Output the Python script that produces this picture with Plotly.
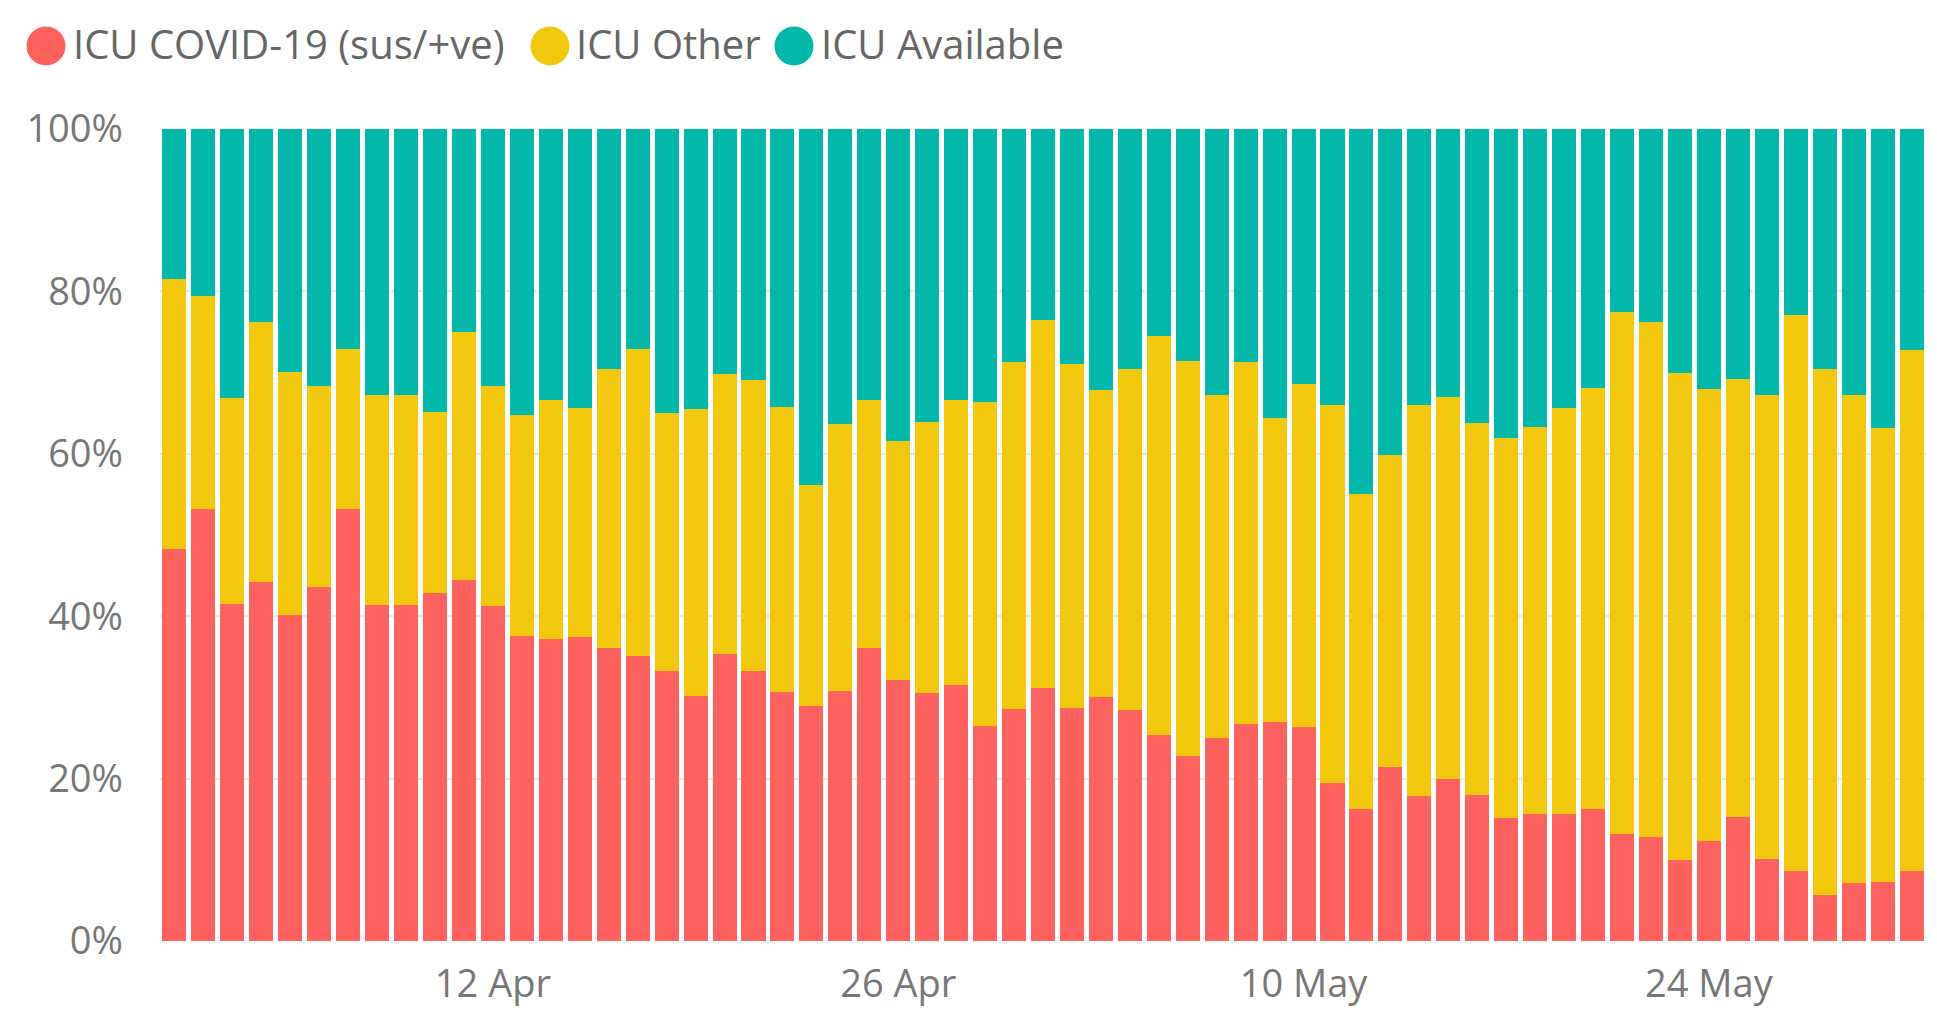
import pandas as pd
import plotly.graph_objects as go

# Dates (1 Apr 2020 .. 31 May 2020)
dates = pd.date_range("2020-04-01", "2020-05-31", freq="D")

# Share of ICU beds (%)
icu_covid = [48.3, 53.2, 41.5, 44.2, 40.2, 43.6, 53.2, 41.4, 41.4, 42.9,
             44.4, 41.2, 37.6, 37.2, 37.5, 36.1, 35.1, 33.3, 30.2, 35.4,
             33.3, 30.7, 28.9, 30.8, 36.1, 32.1, 30.5, 31.5, 26.5, 28.6,
             31.2, 28.7, 30.1, 28.4, 25.4, 22.8, 25.0, 26.7, 27.0, 26.4,
             19.5, 16.3, 21.4, 17.9, 19.9, 18.0, 15.2, 15.6, 15.7, 16.3,
             13.2, 12.8, 10.0, 12.3, 15.3, 10.1, 8.6, 5.7, 7.1, 7.3, 8.6]
icu_other = [33.2, 26.2, 25.4, 32.0, 29.9, 24.7, 19.7, 25.8, 25.8, 22.2,
             30.6, 27.1, 27.2, 29.4, 28.1, 34.3, 37.8, 31.7, 35.3, 34.4,
             35.8, 35.1, 27.3, 32.9, 30.5, 29.5, 33.4, 35.1, 39.9, 42.7,
             45.3, 42.4, 37.7, 42.1, 49.1, 48.6, 42.2, 44.6, 37.4, 42.2,
             46.5, 38.8, 38.4, 48.1, 47.1, 45.8, 46.7, 47.7, 49.9, 51.8,
             64.3, 63.4, 60.0, 55.7, 53.9, 57.2, 68.5, 64.8, 60.2, 55.9, 64.2]
icu_available = [18.5, 20.6, 33.1, 23.8, 29.9, 31.7, 27.1, 32.8, 32.8, 34.9,
                 25.0, 31.7, 35.2, 33.4, 34.4, 29.6, 27.1, 35.0, 34.5, 30.2,
                 30.9, 34.2, 43.8, 36.3, 33.4, 38.4, 36.1, 33.4, 33.6, 28.7,
                 23.5, 28.9, 32.2, 29.5, 25.5, 28.6, 32.8, 28.7, 35.6, 31.4,
                 34.0, 44.9, 40.2, 34.0, 33.0, 36.2, 38.1, 36.7, 34.4, 31.9,
                 22.5, 23.8, 30.0, 32.0, 30.8, 32.7, 22.9, 29.5, 32.7, 36.8, 27.2]

series_names = ["ICU COVID-19 (sus/+ve)", "ICU Other", "ICU Available"]
series_values = [icu_covid, icu_other, icu_available]
colors = ["#FD625E", "#F2C80F", "#01B8AA"]

y_tick_values = [0, 20, 40, 60, 80, 100]
y_tick_labels = ["0%", "20%", "40%", "60%", "80%", "100%"]

FONT = "Segoe UI, Open Sans, sans-serif"

# figure geometry (pixels)
W, H = 1937, 1024
L, R, T, B = 160, 11, 129, 83
PW, PH = W - L - R, H - T - B


def px_x(px):
    return (px - L) / PW


def px_y(py):
    return (H - B - py) / PH


fig = go.Figure()
for name, vals, col in zip(series_names, series_values, colors):
    fig.add_trace(go.Bar(x=dates, y=vals, name=name, marker_color=col,
                         marker_line_width=0))

# custom legend: large round markers + text
legend_marker_cx = [46, 550, 794]
legend_text_x = [72, 575, 820]
legend_marker_cy = 46
legend_text_cy = 43.5
rad = 19.5
shapes = []
annotations = []
for name, col, cx, tx in zip(series_names, colors, legend_marker_cx, legend_text_x):
    shapes.append(dict(type="circle", xref="paper", yref="paper",
                       x0=px_x(cx - rad), x1=px_x(cx + rad),
                       y0=px_y(legend_marker_cy + rad), y1=px_y(legend_marker_cy - rad),
                       fillcolor=col, line=dict(width=0)))
    annotations.append(dict(text=name, xref="paper", yref="paper",
                            x=px_x(tx), y=px_y(legend_text_cy), xanchor="left", yanchor="middle",
                            showarrow=False, borderpad=0,
                            font=dict(family=FONT, size=40, color="#666666")))

fig.update_layout(
    width=W, height=H,
    barmode="stack", bargap=0.17,
    showlegend=False,
    plot_bgcolor="white", paper_bgcolor="white",
    margin=dict(l=L, r=R, t=T, b=B),
    font=dict(family=FONT, size=38, color="#777777"),
    shapes=shapes, annotations=annotations,
    xaxis=dict(range=[pd.Timestamp("2020-03-31 12:00"), pd.Timestamp("2020-05-31 12:00")],
               tickmode="linear", tick0="2020-04-12", dtick=14 * 86400000,
               tickformat="%-d %b", showgrid=False, zeroline=False, showline=False,
               ticks="", ticklabelstandoff=17,
               tickfont=dict(family=FONT, size=38, color="#777777")),
    yaxis=dict(range=[0, 100], tickmode="array", tickvals=y_tick_values, ticktext=y_tick_labels,
               showgrid=True, gridcolor="#EAEAEA", gridwidth=2, zeroline=False,
               showline=False, ticks="", ticklabelstandoff=36,
               tickfont=dict(family=FONT, size=38, color="#777777")),
)

fig.write_html("out.html", config={"displayModeBar": False},
               post_script="document.body.style.margin='0';document.body.style.overflow='hidden';")
